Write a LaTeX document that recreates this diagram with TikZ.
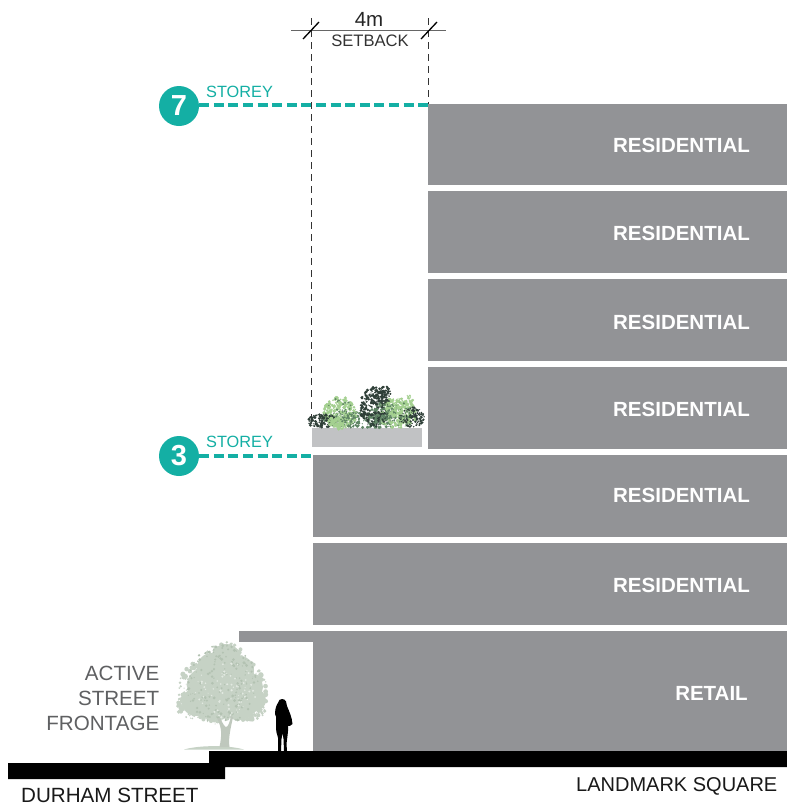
\documentclass[tikz,border=0pt]{standalone}
\usepackage{fontspec}
\setmainfont{Liberation Sans}
\definecolor{slabgrey}{HTML}{929396}
\definecolor{teal}{HTML}{14AFA4}
\definecolor{labelgrey}{HTML}{5F6062}
\definecolor{planter}{HTML}{C1C2C4}
\definecolor{treegreen}{HTML}{C6D2C5}
\definecolor{treedark}{HTML}{B3C2B2}
\definecolor{treetrunk}{HTML}{BFC8BD}
\definecolor{treepale}{HTML}{E2E9E1}
\definecolor{leafdark}{HTML}{2F3F38}
\definecolor{leafmid}{HTML}{5F8565}
\definecolor{leaflight}{HTML}{A4D090}
\newcommand{\leafblob}[7]{%
  \foreach \i in {1,...,#5}{
    \pgfmathsetmacro{\pa}{rnd*360}
    \pgfmathsetmacro{\pd}{sqrt(rnd)}
    \pgfmathsetmacro{\pr}{0.5+rnd*#7}
    \fill[#6] ({#1+#3*\pd*cos(\pa)},{#2+#4*\pd*sin(\pa)}) circle (\pr);
  }%
}
\tikzset{
  slabtext/.style={text=white,font=\fontsize{20.5}{22}\selectfont\bfseries,inner sep=0pt},
  badge/.style={circle,fill=teal,text=white,minimum size=40pt,inner sep=0pt,font=\fontsize{29}{31}\selectfont\bfseries},
  storey/.style={text=teal,font=\fontsize{16.3}{18}\selectfont,inner sep=0pt,anchor=base west},
  levelline/.style={draw=teal,line width=3.4pt,dash pattern=on 10pt off 4.6pt},
  guide/.style={draw=black!80,line width=1pt,dash pattern=on 6.5pt off 5.5pt},
  dimline/.style={draw=black!60,line width=1pt},
  dimtick/.style={draw=black,line width=1.3pt},
  frontage/.style={text=labelgrey,font=\fontsize{20.6}{25}\selectfont,inner sep=0pt},
  ground/.style={text=black!90,inner sep=0pt,anchor=base west}
}
\begin{document}
\begin{tikzpicture}[x=1pt,y=-1pt]
\useasboundingbox (0,0) rectangle (787,809);
\fill[white] (0,0) rectangle (787,809);

% building
\foreach \t/\b in {104/185,191/273,279/361,367/449}{
  \fill[slabgrey] (428,\t) rectangle (787,\b);
}
\foreach \t/\b in {455/537,543/625}{
  \fill[slabgrey] (313,\t) rectangle (787,\b);
}
\fill[slabgrey] (313,631) rectangle (787,751);
\fill[slabgrey] (239,631) rectangle (313,642);

\node[slabtext] (r1) at (681.5,145.5) {RESIDENTIAL};
\node[slabtext] (r2) at (681.5,233) {RESIDENTIAL};
\node[slabtext] (r3) at (681.5,322) {RESIDENTIAL};
\node[slabtext] (r4) at (681.5,409.5) {RESIDENTIAL};
\node[slabtext] (r5) at (681.5,495) {RESIDENTIAL};
\node[slabtext] (r6) at (681.5,585) {RESIDENTIAL};
\node[slabtext] (retail) at (711.5,693) {RETAIL};

% ground
\fill[black] (8,763) -- (209,763) -- (209,751) -- (787,751) -- (787,767) -- (225,767) -- (225,779) -- (8,779) -- cycle;
\node[ground,font=\fontsize{20.6}{22}\selectfont] (durham) at (21,802.5) {DURHAM STREET};
\node[ground,font=\fontsize{20}{22}\selectfont] (landmark) at (576,791.5) {LANDMARK SQUARE};

% guides and dimension
\coordinate (gl1) at (311,18);
\coordinate (gl2) at (311,420);
\coordinate (gr1) at (428.5,18);
\coordinate (gr2) at (428.5,104);
\draw[guide] (gl1) -- (gl2);
\draw[guide] (gr1) -- (gr2);
\coordinate (d1) at (291,30.5);
\coordinate (d2) at (446,30.5);
\draw[dimline] (d1) -- (d2);
\draw[dimtick] (303,39) -- (319,22);
\draw[dimtick] (421,39) -- (437,22);
\node[inner sep=0pt,font=\fontsize{20.5}{22}\selectfont,text=black!85] (dim) at (369,19.5) {4m};
\node[inner sep=0pt,font=\fontsize{16.6}{18}\selectfont,text=black!80] (setback) at (370,41) {SETBACK};

% levels
\node[badge] (l7) at (179,106) {7};
\node[badge] (l3) at (179,456) {3};
\coordinate (e7) at (428,105);
\coordinate (e3) at (312,456);
\draw[levelline] (l7.east |- e7) -- (e7);
\draw[levelline] (l3.east |- e3) -- (e3);
\node[storey] (s7) at (206,97.5) {STOREY};
\node[storey] (s3) at (206,447.5) {STOREY};

% planter with foliage
\fill[planter] (311.5,428) rectangle (422,447);
\pgfmathsetseed{4711}
\leafblob{368}{420}{50}{8}{220}{leafmid}{1.2}
\leafblob{340}{413}{17}{16}{220}{leaflight}{1.6}
\leafblob{397}{413}{20}{15}{200}{leaflight}{1.6}
\leafblob{408}{403}{6}{8}{30}{leaflight}{1.2}
\leafblob{375}{407}{15}{20}{260}{leafdark}{1.3}
\leafblob{382}{415}{14}{12}{60}{leafmid}{1.3}
\leafblob{322}{421}{15}{7}{130}{leafdark}{1}
\leafblob{412}{417}{13}{10}{110}{leafdark}{1}
\leafblob{352}{420}{8}{7}{40}{leafmid}{1}
\leafblob{336}{422}{8}{5}{60}{leaflight}{1.5}
\leafblob{383}{393}{9}{7}{40}{leafdark}{1}
\leafblob{398}{412}{12}{10}{50}{leafmid}{0.8}
\leafblob{340}{410}{12}{12}{25}{leafmid}{0.7}
\leafblob{395}{408}{9}{9}{70}{leaflight}{1.2}

% tree
\fill[treegreen] (184,749.5) .. controls (200,745) and (228,745) .. (244,749.5) -- cycle;
\foreach \cx/\cy/\cr in {226/659/15,212/668/15,240/670/14,204/685/17,222/682/22,250/687/13,196/702/14,213/702/18,238/702/18,255/700/11,220/712/8}{
  \fill[treegreen] (\cx,\cy) circle (\cr);
}
\pgfmathsetseed{321}
\leafblob{225}{660}{20}{18}{120}{treegreen}{2.2}
\leafblob{212}{690}{34}{32}{300}{treegreen}{2.2}
\leafblob{245}{692}{22}{30}{220}{treegreen}{2.2}
\leafblob{190}{705}{13}{14}{90}{treegreen}{1.8}
\leafblob{255}{710}{10}{10}{50}{treegreen}{1.8}
\leafblob{222}{685}{36}{40}{180}{treedark}{1.1}
\leafblob{225}{690}{32}{28}{70}{treepale}{0.8}
\fill[treetrunk] (219.5,747) .. controls (222,735) and (222,728) .. (217,718) -- (220,718) .. controls (223,724) and (225,727) .. (226,727) .. controls (228,727) and (230,722) .. (231,716) -- (233,717)
  .. controls (231,727) and (228,738) .. (229.5,747) -- cycle;

% person
\fill[black] (282,699) .. controls (286,699) and (287,703) .. (287,706)
  .. controls (289,711) and (292,717) .. (292.5,724)
  .. controls (291,726) and (289,726) .. (288,726)
  .. controls (288.5,732) and (287,738) .. (286.5,744)
  -- (287,751) -- (284,751) -- (283.5,739) -- (282.5,733) -- (281.5,739) -- (281,751) -- (278,751) -- (278,738)
  .. controls (277,733) and (275.5,731) .. (276,728)
  .. controls (276,722) and (277,717) .. (275,714)
  .. controls (275,708) and (277,704) .. (278,703)
  .. controls (278.5,700) and (280,699) .. (282,699) -- cycle;

% frontage label
\node[frontage,anchor=base east] (f1) at (159.5,680) {ACTIVE};
\node[frontage,anchor=base east] (f2) at (159.5,705) {STREET};
\node[frontage,anchor=base east] (f3) at (159.5,730) {FRONTAGE};
\end{tikzpicture}
\end{document}
